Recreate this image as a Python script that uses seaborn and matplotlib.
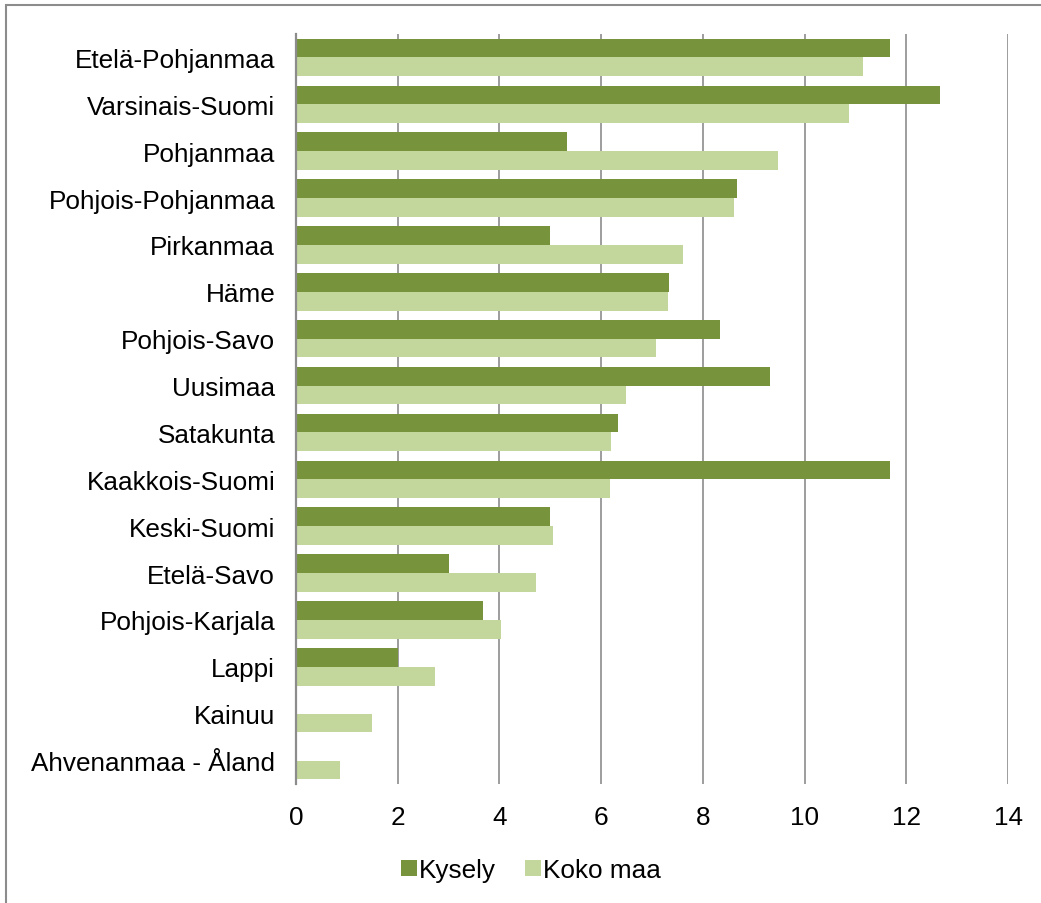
import matplotlib
matplotlib.use("Agg")
import matplotlib.pyplot as plt
import seaborn as sns
import pandas as pd
from matplotlib.patches import Rectangle, Patch

regions = ["Etelä-Pohjanmaa", "Varsinais-Suomi", "Pohjanmaa", "Pohjois-Pohjanmaa",
           "Pirkanmaa", "Häme", "Pohjois-Savo", "Uusimaa", "Satakunta",
           "Kaakkois-Suomi", "Keski-Suomi", "Etelä-Savo", "Pohjois-Karjala",
           "Lappi", "Kainuu", "Ahvenanmaa - Åland"]
kysely = [11.67, 12.67, 5.33, 8.67, 5.0, 7.33, 8.33, 9.33, 6.33, 11.67,
          5.0, 3.0, 3.67, 2.0, 0.0, 0.0]
koko_maa = [11.15, 10.87, 9.47, 8.62, 7.6, 7.32, 7.07, 6.48, 6.2, 6.18,
            5.06, 4.72, 4.03, 2.74, 1.5, 0.86]
series_names = ["Kysely", "Koko maa"]
colors = ["#77933C", "#C3D69B"]
x_ticks = [0, 2, 4, 6, 8, 10, 12, 14]

df = pd.DataFrame({
    "Alue": regions * 2,
    "Arvo": kysely + koko_maa,
    "Sarja": [series_names[0]] * len(regions) + [series_names[1]] * len(regions),
})

sns.set_style("white")
plt.rcParams["font.family"] = ["Liberation Sans", "DejaVu Sans"]
plt.rcParams["text.color"] = "black"

fs = 18.8
fig = plt.figure(figsize=(10.41, 9.04), dpi=100)
ax = fig.add_axes([296 / 1041, 1 - 785 / 904, (1008 - 296) / 1041, (785 - 35) / 904])

sns.barplot(data=df, y="Alue", x="Arvo", hue="Sarja", order=regions,
            hue_order=series_names, palette=colors, orient="h", width=0.8,
            saturation=1, ax=ax, legend=False, linewidth=0, edgecolor="none")

ax.set_xlim(0, 14)
ax.set_ylim(len(regions) - 0.5, -0.5)
ax.set_xticks(x_ticks)
ax.set_xticklabels([str(t) for t in x_ticks])
ax.set_xlabel("")
ax.set_ylabel("")
ax.xaxis.grid(True, color="#8c8c8c", linewidth=1.2)
ax.yaxis.grid(False)
ax.set_axisbelow(True)
for s in ["top", "right", "bottom"]:
    ax.spines[s].set_visible(False)
ax.spines["left"].set_color("#8c8c8c")
ax.spines["left"].set_linewidth(1.6)
ax.tick_params(axis="y", length=0, pad=15, labelsize=fs, colors="black")
ax.tick_params(axis="x", length=0, pad=15, labelsize=fs, colors="black")

handles = [Patch(facecolor=c, edgecolor="none", label=n) for c, n in zip(colors, series_names)]
fig.legend(handles=handles, loc="center", bbox_to_anchor=(0.51, 1 - 871 / 904),
           ncol=2, frameon=False, fontsize=fs, handlelength=0.6, handleheight=0.6,
           handletextpad=0.1, columnspacing=1.1, labelcolor="black")

frame = Rectangle((6 / 1041, -0.1), 1.2, 1 - 6 / 904 + 0.1, transform=fig.transFigure,
                  fill=False, edgecolor="#8c8c8c", linewidth=1.5)
fig.add_artist(frame)

fig.savefig("out.png", dpi=100)
